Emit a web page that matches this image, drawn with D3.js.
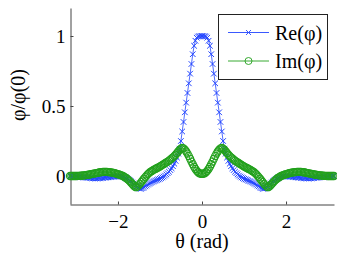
<!DOCTYPE html>
<html>
<head>
<meta charset="utf-8">
<script src="https://cdn.jsdelivr.net/npm/d3@7"></script>
<style>
  body { margin: 0; background: #fff; }
  svg { display: block; font-family: "Liberation Serif", "Times New Roman", serif; }
</style>
</head>
<body>
<svg id="chart" width="337" height="263"></svg>
<script>
// sample grid: 201 angles from -pi to pi
const theta = d3.range(201).map(i => -Math.PI + i * Math.PI / 100);

// values
const reVals = [
  0.000,0.000,-0.001,-0.002,-0.003,-0.004,-0.005,-0.006,-0.007,-0.008,-0.009,
  -0.010,-0.011,-0.012,-0.013,-0.014,-0.015,-0.016,-0.016,-0.017,-0.017,
  -0.016,-0.016,-0.015,-0.014,-0.013,-0.012,-0.011,-0.010,-0.009,-0.008,
  -0.007,-0.006,-0.005,-0.004,-0.003,-0.002,-0.002,-0.002,-0.003,-0.005,
  -0.008,-0.012,-0.017,-0.023,-0.030,-0.038,-0.046,-0.054,-0.062,-0.070,
  -0.078,-0.085,-0.090,-0.091,-0.087,-0.081,-0.074,-0.067,-0.061,-0.055,
  -0.050,-0.045,-0.040,-0.036,-0.032,-0.028,-0.024,-0.020,-0.015,-0.010,
  -0.004,0.003,0.011,0.020,0.030,0.042,0.055,0.070,0.088,0.108,
  0.132,0.160,0.195,0.250,0.318,0.386,0.455,0.524,0.593,0.662,
  0.731,0.800,0.870,0.930,0.966,0.988,0.996,0.999,1.000,
  1.000,1.000,0.999,0.996,0.988,0.966,0.930,0.870,0.800,0.731,
  0.662,0.593,0.524,0.455,0.386,0.318,0.250,0.195,0.160,0.132,
  0.108,0.088,0.070,0.055,0.042,0.030,0.020,0.011,0.003,-0.004,
  -0.010,-0.015,-0.020,-0.024,-0.028,-0.032,-0.036,-0.040,-0.045,-0.050,
  -0.055,-0.061,-0.067,-0.074,-0.081,-0.087,-0.091,-0.090,-0.085,-0.078,
  -0.070,-0.062,-0.054,-0.046,-0.038,-0.030,-0.023,-0.017,-0.012,-0.008,
  -0.005,-0.003,-0.002,-0.002,-0.002,-0.003,-0.004,-0.005,-0.006,-0.007,
  -0.008,-0.009,-0.010,-0.011,-0.012,-0.013,-0.014,-0.015,-0.016,-0.016,
  -0.017,-0.017,-0.016,-0.016,-0.015,-0.014,-0.013,-0.012,-0.011,-0.010,
  -0.009,-0.008,-0.007,-0.006,-0.005,-0.004,-0.003,-0.002,-0.001,0.000,
  0.000
];

const imVals = [
  0.000,0.000,0.000,0.000,0.000,0.000,0.001,0.001,0.002,0.003,0.004,
  0.005,0.006,0.008,0.009,0.011,0.013,0.015,0.017,0.019,0.021,
  0.023,0.025,0.027,0.028,0.029,0.030,0.030,0.029,0.028,0.027,
  0.026,0.024,0.022,0.020,0.017,0.014,0.011,0.008,0.004,0.000,
  -0.005,-0.011,-0.018,-0.026,-0.035,-0.045,-0.055,-0.066,-0.075,-0.080,
  -0.076,-0.067,-0.056,-0.044,-0.032,-0.020,-0.008,0.003,0.013,0.022,
  0.030,0.036,0.042,0.047,0.052,0.057,0.062,0.067,0.073,0.079,
  0.085,0.091,0.097,0.103,0.110,0.117,0.125,0.133,0.142,0.152,
  0.163,0.175,0.187,0.196,0.200,0.197,0.188,0.175,0.160,0.142,
  0.123,0.103,0.084,0.066,0.050,0.037,0.027,0.020,0.016,
  0.015,0.016,0.020,0.027,0.037,0.050,0.066,0.084,0.103,0.123,
  0.142,0.160,0.175,0.188,0.197,0.200,0.196,0.187,0.175,0.163,
  0.152,0.142,0.133,0.125,0.117,0.110,0.103,0.097,0.091,0.085,
  0.079,0.073,0.067,0.062,0.057,0.052,0.047,0.042,0.036,0.030,
  0.022,0.013,0.003,-0.008,-0.020,-0.032,-0.044,-0.056,-0.067,-0.076,
  -0.080,-0.075,-0.066,-0.055,-0.045,-0.035,-0.026,-0.018,-0.011,-0.005,
  0.000,0.004,0.008,0.011,0.014,0.017,0.020,0.022,0.024,0.026,
  0.027,0.028,0.029,0.030,0.030,0.029,0.028,0.027,0.025,0.023,
  0.021,0.019,0.017,0.015,0.013,0.011,0.009,0.008,0.006,0.005,
  0.004,0.003,0.002,0.001,0.001,0.000,0.000,0.000,0.000,0.000,
  0.000
];

const seriesNames = ['Re(φ)', 'Im(φ)'];
const xTicks = [-2, 0, 2];
const yTicks = [0, 0.5, 1];

const blue = '#2446ff';
const green = '#22a01c';
const serif = '"Liberation Serif", "Times New Roman", serif';

const svg = d3.select('#chart');

const x = d3.scaleLinear().domain([-Math.PI, Math.PI]).range([70, 334]);
const y = d3.scaleLinear().domain([-0.2, 1.2]).range([204, 8]);

// axes (box off, ticks pointing inward)
const xAxis = svg.append('g')
  .attr('transform', 'translate(0,204.5)')
  .call(d3.axisBottom(x).tickValues(xTicks).tickFormat(d3.format('d'))
    .tickSizeInner(-3).tickSizeOuter(0).tickPadding(10));

const yAxis = svg.append('g')
  .attr('transform', 'translate(70.5,0)')
  .call(d3.axisLeft(y).tickValues(yTicks).tickFormat(d => String(d))
    .tickSizeInner(-3).tickSizeOuter(0).tickPadding(5));

[xAxis, yAxis].forEach(g => {
  g.attr('font-family', serif).attr('font-size', 19);
  g.selectAll('path, line').attr('stroke', '#444');
  g.selectAll('text').attr('fill', '#000');
});

const line = d3.line().x((d, i) => x(theta[i])).y(d => y(d));

const plot = svg.append('g');

// Re: line with x markers
plot.append('path')
  .datum(reVals)
  .attr('d', line)
  .attr('fill', 'none')
  .attr('stroke', blue)
  .attr('stroke-width', 0.8);

plot.selectAll('.re-mark')
  .data(reVals)
  .join('path')
  .attr('class', 're-mark')
  .attr('transform', (d, i) => `translate(${x(theta[i])},${y(d)})`)
  .attr('d', 'M-2.8,-2.8L2.8,2.8M-2.8,2.8L2.8,-2.8')
  .attr('stroke', blue)
  .attr('stroke-width', 1)
  .attr('fill', 'none');

// Im: line with circle markers
plot.append('path')
  .datum(imVals)
  .attr('d', line)
  .attr('fill', 'none')
  .attr('stroke', green)
  .attr('stroke-width', 0.8);

plot.selectAll('.im-mark')
  .data(imVals)
  .join('circle')
  .attr('class', 'im-mark')
  .attr('cx', (d, i) => x(theta[i]))
  .attr('cy', d => y(d))
  .attr('r', 3.6)
  .attr('fill', 'none')
  .attr('stroke', green)
  .attr('stroke-width', 1.1);

// axis labels
svg.append('text')
  .attr('x', 202)
  .attr('y', 248)
  .attr('text-anchor', 'middle')
  .style('font-size', '20px')
  .text('θ (rad)');

svg.append('text')
  .attr('transform', 'translate(25,95) rotate(-90)')
  .attr('text-anchor', 'middle')
  .style('font-size', '20px')
  .text('φ/φ(0)');

// legend
const legend = svg.append('g');
legend.append('rect')
  .attr('x', 218.5).attr('y', 14.5)
  .attr('width', 109).attr('height', 65)
  .attr('fill', '#fff')
  .attr('stroke', '#222')
  .attr('stroke-width', 1);

const colors = [blue, green];
seriesNames.forEach((name, i) => {
  const ly = 32.5 + i * 28.5;
  legend.append('line')
    .attr('x1', 228).attr('x2', 269)
    .attr('y1', ly).attr('y2', ly)
    .attr('stroke', colors[i])
    .attr('stroke-width', 0.9);
  if (i === 0) {
    legend.append('path')
      .attr('transform', `translate(248.5,${ly})`)
      .attr('d', 'M-2.5,-2.5L2.5,2.5M-2.5,2.5L2.5,-2.5')
      .attr('stroke', colors[i])
      .attr('stroke-width', 0.9);
  } else {
    legend.append('circle')
      .attr('cx', 248.5).attr('cy', ly).attr('r', 3.5)
      .attr('fill', 'none')
      .attr('stroke', colors[i])
      .attr('stroke-width', 0.9);
  }
  legend.append('text')
    .attr('x', 275)
    .attr('y', ly + 7)
    .style('font-size', '20px')
    .text(name);
});
</script>
</body>
</html>
